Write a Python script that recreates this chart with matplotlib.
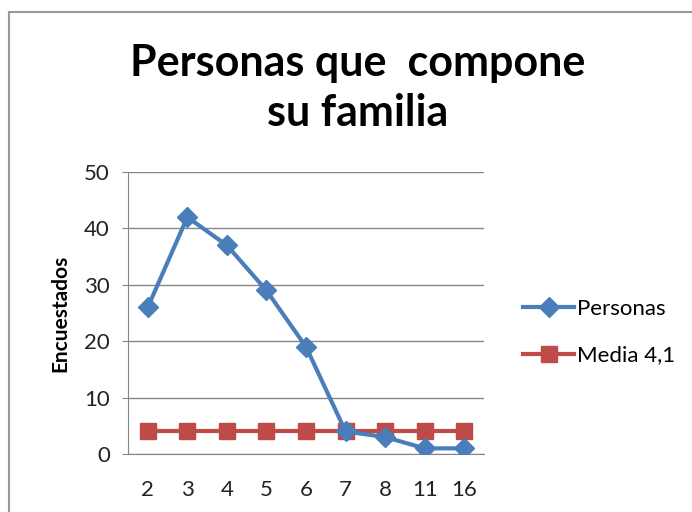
import matplotlib.pyplot as plt
from matplotlib.lines import Line2D

# Data
categorias = ["2", "3", "4", "5", "6", "7", "8", "11", "16"]
personas = [26, 42, 37, 29, 19, 4, 3, 1, 1]
media = [4.1] * len(categorias)

plt.rcParams["font.family"] = ["Lato", "DejaVu Sans"]

fig = plt.figure(figsize=(6.92, 5.12), dpi=100)
ax = fig.add_axes([128 / 692, 58 / 512, 356 / 692, 282 / 512])

x = range(len(categorias))
ax.plot(x, personas, color="#4A7EBB", linewidth=3, marker="D", markersize=10,
        label="Personas", zorder=3)
ax.plot(x, media, color="#BE4B48", linewidth=3, marker="s", markersize=12,
        label="Media 4,1", zorder=2)

ax.set_xlim(-0.5, len(categorias) - 0.5)
ax.set_ylim(0, 50)
ax.set_yticks(range(0, 51, 10))
ax.set_xticks(list(x))
ax.set_xticklabels(categorias)
ax.tick_params(axis="x", length=0, labelsize=16, pad=19, colors="#222222")
ax.tick_params(axis="y", length=4, labelsize=16, pad=9, colors="#222222",
               color="#868686")
ax.grid(axis="y", color="#868686", linewidth=1)
ax.set_axisbelow(True)
for side in ["top", "right"]:
    ax.spines[side].set_visible(False)
for side in ["left", "bottom"]:
    ax.spines[side].set_color("#868686")
ax.set_ylabel("Encuestados", fontsize=15, fontweight="bold", labelpad=10)

fig.text(358 / 692, 1 - 88 / 512, "Personas que  compone\nsu familia",
         ha="center", va="center", multialignment="center",
         fontsize=31, fontweight="bold", linespacing=1.3)

fig.legend(loc="center left", bbox_to_anchor=(503 / 692, 1 - 332 / 512),
           frameon=False, fontsize=16, handlelength=2.3, handletextpad=0.15,
           labelspacing=1.2)

# outer chart border (top and left visible)
fig.add_artist(Line2D([9 / 692, 1], [1 - 12 / 512, 1 - 12 / 512],
                      transform=fig.transFigure, color="#999999", linewidth=1.5))
fig.add_artist(Line2D([9 / 692, 9 / 692], [0, 1 - 12 / 512],
                      transform=fig.transFigure, color="#999999", linewidth=1.5))

fig.savefig("out.png", dpi=100)
